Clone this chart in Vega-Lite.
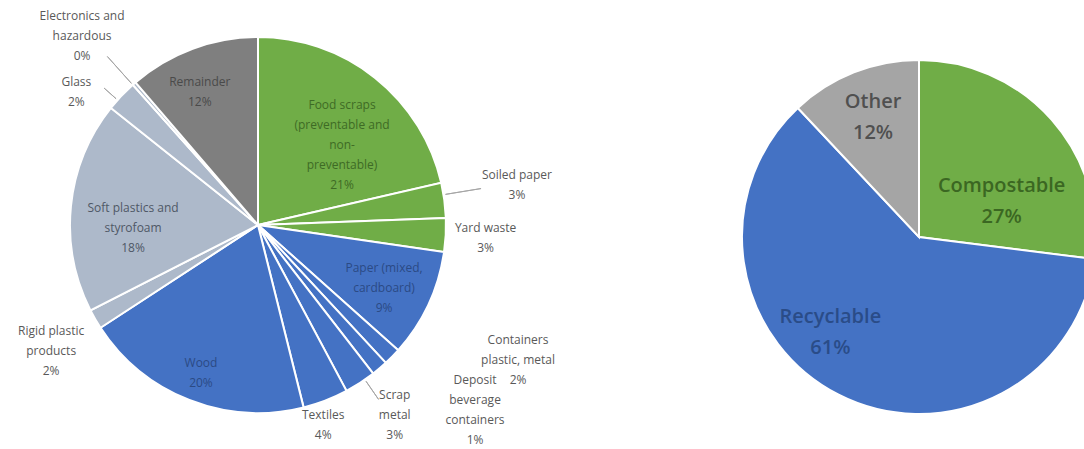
{
  "$schema": "https://vega.github.io/schema/vega-lite/v6.json",
  "padding": 0,
  "bounds": "flush",
  "spacing": 226,
  "resolve": {"scale": {"color": "independent", "theta": "independent"}},
  "config": {
    "view": {"stroke": null},
    "text": {"font": "Open Sans", "fontSize": 12, "lineBreak": "\n", "lineHeight": 20, "align": "center", "baseline": "middle", "color": "#595959"}
  },
  "hconcat": [
    {
      "width": 516,
      "height": 450,
      "data": {"values": [
        {"order": 1, "cat": "Food", "label": "Food scraps\n(preventable and\nnon-\npreventable)\n21%", "value": 21.4, "stream": "compostable"},
        {"order": 2, "cat": "Soiled", "label": "Soiled paper\n3%", "value": 3.0, "stream": "compostable"},
        {"order": 3, "cat": "Yard", "label": "Yard waste\n3%", "value": 2.9, "stream": "compostable"},
        {"order": 4, "cat": "Paper", "label": "Paper (mixed,\ncardboard)\n9%", "value": 9.3, "stream": "recyclable"},
        {"order": 5, "cat": "Containers", "label": "Containers\nplastic, metal\n2%", "value": 1.5, "stream": "recyclable"},
        {"order": 6, "cat": "Deposit", "label": "Deposit\nbeverage\ncontainers\n1%", "value": 1.4, "stream": "recyclable"},
        {"order": 7, "cat": "Scrap", "label": "Scrap\nmetal\n3%", "value": 2.7, "stream": "recyclable"},
        {"order": 8, "cat": "Textiles", "label": "Textiles\n4%", "value": 3.9, "stream": "recyclable"},
        {"order": 9, "cat": "Wood", "label": "Wood\n20%", "value": 19.7, "stream": "recyclable"},
        {"order": 10, "cat": "Rigid", "label": "Rigid plastic\nproducts\n2%", "value": 1.7, "stream": "plastics"},
        {"order": 11, "cat": "Soft", "label": "Soft plastics and\nstyrofoam\n18%", "value": 18.2, "stream": "plastics"},
        {"order": 12, "cat": "Glass", "label": "Glass\n2%", "value": 2.7, "stream": "plastics"},
        {"order": 13, "cat": "Electronics", "label": "Electronics and\nhazardous\n0%", "value": 0.3, "stream": "plastics"},
        {"order": 14, "cat": "Remainder", "label": "Remainder\n12%", "value": 11.3, "stream": "remainder"}
      ]},
      "transform": [
        {"stack": "value", "groupby": [], "sort": [{"field": "order", "order": "ascending"}], "as": ["v0", "v1"]},
        {"fold": ["v0", "v1"], "as": ["edge", "ang"]},
        {"aggregate": [{"op": "mean", "field": "ang", "as": "mid"}], "groupby": ["order", "cat", "label", "value", "stream", "v0", "v1"]}
      ],
      "layer": [
        {
          "mark": {"type": "arc", "outerRadius": 188, "stroke": "white", "strokeWidth": 2},
          "encoding": {
            "theta": {"field": "v0", "type": "quantitative", "scale": {"domain": [0, 100]}},
            "theta2": {"field": "v1"},
            "color": {"field": "stream", "type": "nominal", "legend": null,
              "scale": {"domain": ["compostable", "recyclable", "plastics", "remainder"], "range": ["#70AD47", "#4472C4", "#ADB9CA", "#7F7F7F"]}}
          }
        },
        {"transform": [{"filter": "datum.cat === 'Soiled'"}], "mark": {"type": "arc", "radius": 226, "radius2": 190, "stroke": "#A6A6A6", "strokeWidth": 1, "fill": null, "thetaOffset": -0.03, "theta2Offset": -0.03},
         "encoding": {"theta": {"field": "mid", "type": "quantitative", "scale": {"domain": [0, 100]}}, "theta2": {"field": "mid"}}},
        {"transform": [{"filter": "datum.cat === 'Scrap'"}], "mark": {"type": "arc", "radius": 212, "radius2": 190, "stroke": "#A6A6A6", "strokeWidth": 1, "fill": null, "thetaOffset": -0.03, "theta2Offset": -0.03},
         "encoding": {"theta": {"field": "mid", "type": "quantitative", "scale": {"domain": [0, 100]}}, "theta2": {"field": "mid"}}},
        {"transform": [{"filter": "datum.cat === 'Glass'"}], "mark": {"type": "arc", "radius": 206, "radius2": 190, "stroke": "#A6A6A6", "strokeWidth": 1, "fill": null, "thetaOffset": -0.03, "theta2Offset": -0.03},
         "encoding": {"theta": {"field": "mid", "type": "quantitative", "scale": {"domain": [0, 100]}}, "theta2": {"field": "mid"}}},
        {"transform": [{"filter": "datum.cat === 'Electronics'"}], "mark": {"type": "arc", "radius": 226, "radius2": 190, "stroke": "#A6A6A6", "strokeWidth": 1, "fill": null, "thetaOffset": -0.01, "theta2Offset": -0.01},
         "encoding": {"theta": {"field": "mid", "type": "quantitative", "scale": {"domain": [0, 100]}}, "theta2": {"field": "mid"}}},
        {"transform": [{"filter": "datum.cat === 'Food'"}], "mark": {"type": "text", "radius": 116, "thetaOffset": 0.138, "dy": -40, "color": "#3E6B25"},
         "encoding": {"theta": {"field": "mid", "type": "quantitative", "scale": {"domain": [0, 100]}}, "text": {"field": "label"}}},
        {"transform": [{"filter": "datum.cat === 'Soiled'"}], "mark": {"type": "text", "radius": 262, "thetaOffset": -0.021, "dy": -10},
         "encoding": {"theta": {"field": "mid", "type": "quantitative", "scale": {"domain": [0, 100]}}, "text": {"field": "label"}}},
        {"transform": [{"filter": "datum.cat === 'Yard'"}], "mark": {"type": "text", "radius": 228, "thetaOffset": 0.005, "dy": -10},
         "encoding": {"theta": {"field": "mid", "type": "quantitative", "scale": {"domain": [0, 100]}}, "text": {"field": "label"}}},
        {"transform": [{"filter": "datum.cat === 'Paper'"}], "mark": {"type": "text", "radius": 141, "thetaOffset": 0.028, "dy": -20, "color": "#2B4A85"},
         "encoding": {"theta": {"field": "mid", "type": "quantitative", "scale": {"domain": [0, 100]}}, "text": {"field": "label"}}},
        {"transform": [{"filter": "datum.cat === 'Containers'"}], "mark": {"type": "text", "radius": 293, "thetaOffset": -0.297, "dy": -20},
         "encoding": {"theta": {"field": "mid", "type": "quantitative", "scale": {"domain": [0, 100]}}, "text": {"field": "label"}}},
        {"transform": [{"filter": "datum.cat === 'Deposit'"}], "mark": {"type": "text", "radius": 285, "thetaOffset": -0.162, "dy": -30},
         "encoding": {"theta": {"field": "mid", "type": "quantitative", "scale": {"domain": [0, 100]}}, "text": {"field": "label"}}},
        {"transform": [{"filter": "datum.cat === 'Scrap'"}], "mark": {"type": "text", "radius": 234, "thetaOffset": -0.049, "dy": -20},
         "encoding": {"theta": {"field": "mid", "type": "quantitative", "scale": {"domain": [0, 100]}}, "text": {"field": "label"}}},
        {"transform": [{"filter": "datum.cat === 'Textiles'"}], "mark": {"type": "text", "radius": 210, "thetaOffset": 0.052, "dy": -10},
         "encoding": {"theta": {"field": "mid", "type": "quantitative", "scale": {"domain": [0, 100]}}, "text": {"field": "label"}}},
        {"transform": [{"filter": "datum.cat === 'Wood'"}], "mark": {"type": "text", "radius": 159, "thetaOffset": -0.007, "dy": -10, "color": "#2B4A85"},
         "encoding": {"theta": {"field": "mid", "type": "quantitative", "scale": {"domain": [0, 100]}}, "text": {"field": "label"}}},
        {"transform": [{"filter": "datum.cat === 'Rigid'"}], "mark": {"type": "text", "radius": 242, "thetaOffset": -0.021, "dy": -20},
         "encoding": {"theta": {"field": "mid", "type": "quantitative", "scale": {"domain": [0, 100]}}, "text": {"field": "label"}}},
        {"transform": [{"filter": "datum.cat === 'Soft'"}], "mark": {"type": "text", "radius": 125, "thetaOffset": -0.126, "dy": -20, "color": "#4F5866"},
         "encoding": {"theta": {"field": "mid", "type": "quantitative", "scale": {"domain": [0, 100]}}, "text": {"field": "label"}}},
        {"transform": [{"filter": "datum.cat === 'Glass'"}], "mark": {"type": "text", "radius": 225, "thetaOffset": -0.126, "dy": -10},
         "encoding": {"theta": {"field": "mid", "type": "quantitative", "scale": {"domain": [0, 100]}}, "text": {"field": "label"}}},
        {"transform": [{"filter": "datum.cat === 'Electronics'"}], "mark": {"type": "text", "radius": 258, "thetaOffset": -0.031, "dy": -20},
         "encoding": {"theta": {"field": "mid", "type": "quantitative", "scale": {"domain": [0, 100]}}, "text": {"field": "label"}}},
        {"transform": [{"filter": "datum.cat === 'Remainder'"}], "mark": {"type": "text", "radius": 145, "thetaOffset": -0.058, "dy": -10, "color": "#4A4A4A"},
         "encoding": {"theta": {"field": "mid", "type": "quantitative", "scale": {"domain": [0, 100]}}, "text": {"field": "label"}}}
      ]
    },
    {
      "width": 354,
      "height": 474,
      "data": {"values": [
        {"order": 1, "cat": "Compostable", "label": "Compostable\n27%", "value": 27},
        {"order": 2, "cat": "Recyclable", "label": "Recyclable\n61%", "value": 61},
        {"order": 3, "cat": "Other", "label": "Other\n12%", "value": 12}
      ]},
      "transform": [
        {"stack": "value", "groupby": [], "sort": [{"field": "order", "order": "ascending"}], "as": ["v0", "v1"]},
        {"fold": ["v0", "v1"], "as": ["edge", "ang"]},
        {"aggregate": [{"op": "mean", "field": "ang", "as": "mid"}], "groupby": ["order", "cat", "label", "value", "v0", "v1"]}
      ],
      "layer": [
        {
          "mark": {"type": "arc", "outerRadius": 177, "stroke": "white", "strokeWidth": 2},
          "encoding": {
            "theta": {"field": "v0", "type": "quantitative", "scale": {"domain": [0, 100]}},
            "theta2": {"field": "v1"},
            "color": {"field": "cat", "type": "nominal", "legend": null,
              "scale": {"domain": ["Compostable", "Recyclable", "Other"], "range": ["#70AD47", "#4472C4", "#A5A5A5"]}}
          }
        },
        {"transform": [{"filter": "datum.cat === 'Compostable'"}], "mark": {"type": "text", "radius": 90, "thetaOffset": 0.314, "dy": -15.5, "color": "#3B6722", "fontSize": 20, "fontWeight": 600, "lineHeight": 31},
         "encoding": {"theta": {"field": "mid", "type": "quantitative", "scale": {"domain": [0, 100]}}, "text": {"field": "label"}}},
        {"transform": [{"filter": "datum.cat === 'Recyclable'"}], "mark": {"type": "text", "radius": 130, "thetaOffset": 0.279, "dy": -15.5, "color": "#2A4C88", "fontSize": 20, "fontWeight": 600, "lineHeight": 31},
         "encoding": {"theta": {"field": "mid", "type": "quantitative", "scale": {"domain": [0, 100]}}, "text": {"field": "label"}}},
        {"transform": [{"filter": "datum.cat === 'Other'"}], "mark": {"type": "text", "radius": 128, "thetaOffset": 0.01, "dy": -15.5, "color": "#505050", "fontSize": 20, "fontWeight": 600, "lineHeight": 31},
         "encoding": {"theta": {"field": "mid", "type": "quantitative", "scale": {"domain": [0, 100]}}, "text": {"field": "label"}}}
      ]
    }
  ]
}
